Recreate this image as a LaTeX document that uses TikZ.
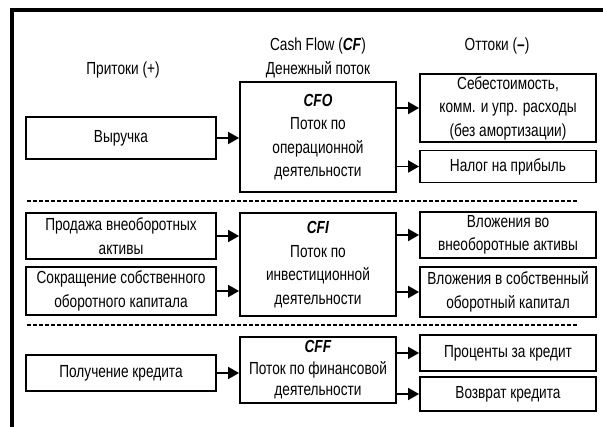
\documentclass[tikz,border=0pt]{standalone}
\usepackage{fontspec}
\setmainfont{Liberation Sans}[FakeStretch=0.78]
\usetikzlibrary{arrows.meta}
\newcommand{\flowfont}{\fontsize{17.5}{23.5}\selectfont}
\newcommand{\bi}[1]{\textbf{\textit{#1}}}
\tikzset{
  box/.style={draw, line width=1.8pt, align=center, inner sep=0pt, font=\flowfont},
  lbl/.style={inner sep=0pt, align=center, font=\flowfont},
  arr/.style={line width=1.8pt, -{Triangle[length=11pt,width=12pt]}},
  sep/.style={line width=2pt, dash pattern=on 4pt off 2pt},
}
\begin{document}
\begin{tikzpicture}[x=1pt,y=-1pt]
\useasboundingbox (0,0) rectangle (603,427);
\draw[line width=4pt] (11.5,427) -- (11.5,10) -- (603,10);
% headings
\node[lbl] (pritoki) at (123,70){Притоки (+)};
\node[lbl] (cashflow) at (318,46){Cash Flow (\bi{CF})};
\node[lbl] (denpotok) at (318,70){Денежный поток};
\node[lbl] (ottoki) at (497,46){Оттоки (\textbf{--})};
% operating
\node[box, minimum width=190pt, minimum height=42pt] (vyruchka) at (121,138){Выручка};
\node[box, minimum width=156pt, minimum height=110pt] (cfo) at (318,137){\bi{CFO}\\Поток по\\операционной\\деятельности};
\node[box, minimum width=176pt, minimum height=68pt] (sebest) at (508,108){Себестоимость,\\комм. и упр. расходы\\(без амортизации)};
\node[box, minimum width=176pt, minimum height=32pt] (nalog) at (508,166.5){Налог на прибыль};
\draw[arr](vyruchka.east) -- (vyruchka.east -| cfo.west);
\draw[arr](sebest.west -| cfo.east) -- (sebest.west);
\draw[arr](nalog.west -| cfo.east) -- (nalog.west);
\draw[sep] (27,201) -- (578,201);
% investing
\node[box, minimum width=190pt, minimum height=46pt] (prodazha) at (121,236){Продажа внеоборотных\\активы};
\node[box, minimum width=190pt, minimum height=48pt] (sokrash) at (121,291){Сокращение собственного\\оборотного капитала};
\node[box, minimum width=156pt, minimum height=103pt] (cfi) at (318,264.5){\bi{CFI}\\Поток по\\инвестиционной\\деятельности};
\node[box, minimum width=176pt, minimum height=46pt] (vlvneob) at (508,235){Вложения во\\внеоборотные активы};
\node[box, minimum width=176pt, minimum height=50pt] (vlsobst) at (508,292){Вложения в собственный\\оборотный капитал};
\draw[arr](prodazha.east) -- (prodazha.east -| cfi.west);
\draw[arr](sokrash.east) -- (sokrash.east -| cfi.west);
\draw[arr](vlvneob.west -| cfi.east) -- (vlvneob.west);
\draw[arr](vlsobst.west -| cfi.east) -- (vlsobst.west);
\draw[sep] (27,325) -- (578,325);
% financing
\node[box, minimum width=190pt, minimum height=36pt] (poluch) at (121,373){Получение кредита};
\node[box, minimum width=156pt, minimum height=66pt, font=\fontsize{17.5}{21.5}\selectfont] (cff) at (318,370){\bi{CFF}\\Поток по финансовой\\деятельности};
\node[box, minimum width=176pt, minimum height=36pt] (procent) at (508,353){Проценты за кредит};
\node[box, minimum width=176pt, minimum height=34pt] (vozvrat) at (508,394){Возврат кредита};
\draw[arr](poluch.east) -- (poluch.east -| cff.west);
\draw[arr](procent.west -| cff.east) -- (procent.west);
\draw[arr](vozvrat.west -| cff.east) -- (vozvrat.west);
\end{tikzpicture}
\end{document}
